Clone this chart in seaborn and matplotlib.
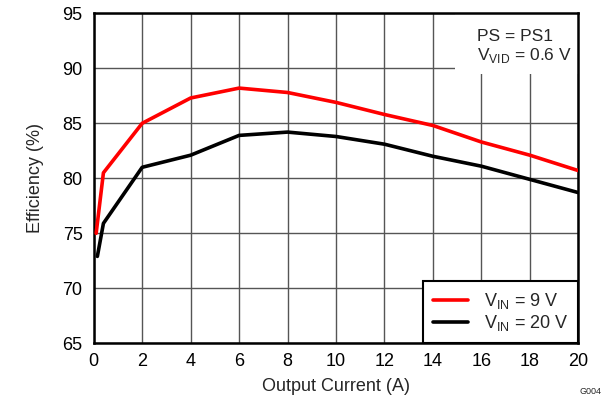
import matplotlib
matplotlib.use("Agg")
import matplotlib.pyplot as plt
from matplotlib.patches import Rectangle
import seaborn as sns
import pandas as pd

# Efficiency vs. output current, two input voltages
current_9v = [0.1, 0.4, 2, 4, 6, 8, 10, 12, 14, 16, 18, 20]
eff_9v = [75.0, 80.5, 85.0, 87.3, 88.2, 87.8, 86.9, 85.8, 84.8, 83.3, 82.1, 80.7]
current_20v = [0.15, 0.4, 2, 4, 6, 8, 10, 12, 14, 16, 18, 20]
eff_20v = [72.9, 75.9, 81.0, 82.1, 83.9, 84.2, 83.8, 83.1, 82.0, 81.1, 79.9, 78.7]
series_labels = [r"V$_\mathregular{IN}$ = 9 V", r"V$_\mathregular{IN}$ = 20 V"]
series_colors = ["#ff0000", "#000000"]
x_ticks = [0, 2, 4, 6, 8, 10, 12, 14, 16, 18, 20]
y_ticks = [65, 70, 75, 80, 85, 90, 95]

df = pd.concat([
    pd.DataFrame({"current": current_9v, "eff": eff_9v, "series": series_labels[0]}),
    pd.DataFrame({"current": current_20v, "eff": eff_20v, "series": series_labels[1]}),
])

sns.set_style("white")
plt.rcParams["font.family"] = ["Liberation Sans", "DejaVu Sans"]
plt.rcParams["mathtext.fontset"] = "custom"
plt.rcParams["mathtext.rm"] = "Liberation Sans"

FS = 13

fig = plt.figure(figsize=(6.11, 3.97), dpi=100)
ax = fig.add_axes([0.1534, 0.1353, 0.7931, 0.8312])

sns.lineplot(data=df, x="current", y="eff", hue="series", palette=series_colors,
             hue_order=series_labels, linewidth=2.6, ax=ax, sort=False,
             estimator=None, zorder=3)

ax.set_xlim(0, 20)
ax.set_ylim(65, 95)
ax.set_xticks(x_ticks)
ax.set_yticks(y_ticks)
ax.tick_params(axis="both", length=0, labelsize=FS, colors="black")
ax.tick_params(axis="x", pad=7)
ax.tick_params(axis="y", pad=8)
ax.set_axisbelow(True)
ax.grid(True, color="#555555", linewidth=1.0)
for s in ax.spines.values():
    s.set_color("black")
    s.set_linewidth(1.8)

ax.set_xlabel("Output Current (A)", fontsize=FS, labelpad=6)
ax.set_ylabel("Efficiency (%)", fontsize=FS, labelpad=13)

# condition note on a white patch over the grid
ax.add_patch(Rectangle((14.9, 89.5), 5.1, 5.5, facecolor="white", edgecolor="none", zorder=1))
ax.text(15.82, 92.85, "PS = PS1", fontsize=12.5, va="center", ha="left", zorder=4)
ax.text(15.82, 91.2, r"V$_\mathregular{VID}$ = 0.6 V", fontsize=12.5, va="center", ha="left", zorder=4)

leg = ax.legend(loc="lower right", bbox_to_anchor=(1.0, 0.0), borderaxespad=0,
                fontsize=FS, frameon=True, fancybox=False, handlelength=1.95,
                handletextpad=0.85, labelspacing=0.12, borderpad=0.55, title=None)
leg.get_frame().set_edgecolor("black")
leg.get_frame().set_linewidth(1.5)
leg.get_frame().set_alpha(1)
for line in leg.get_lines():
    line.set_linewidth(2.6)

fig.text(590 / 611, 1 - 392 / 397, "G004", fontsize=6.5, ha="center", va="center")

fig.savefig("out.png", dpi=100)
